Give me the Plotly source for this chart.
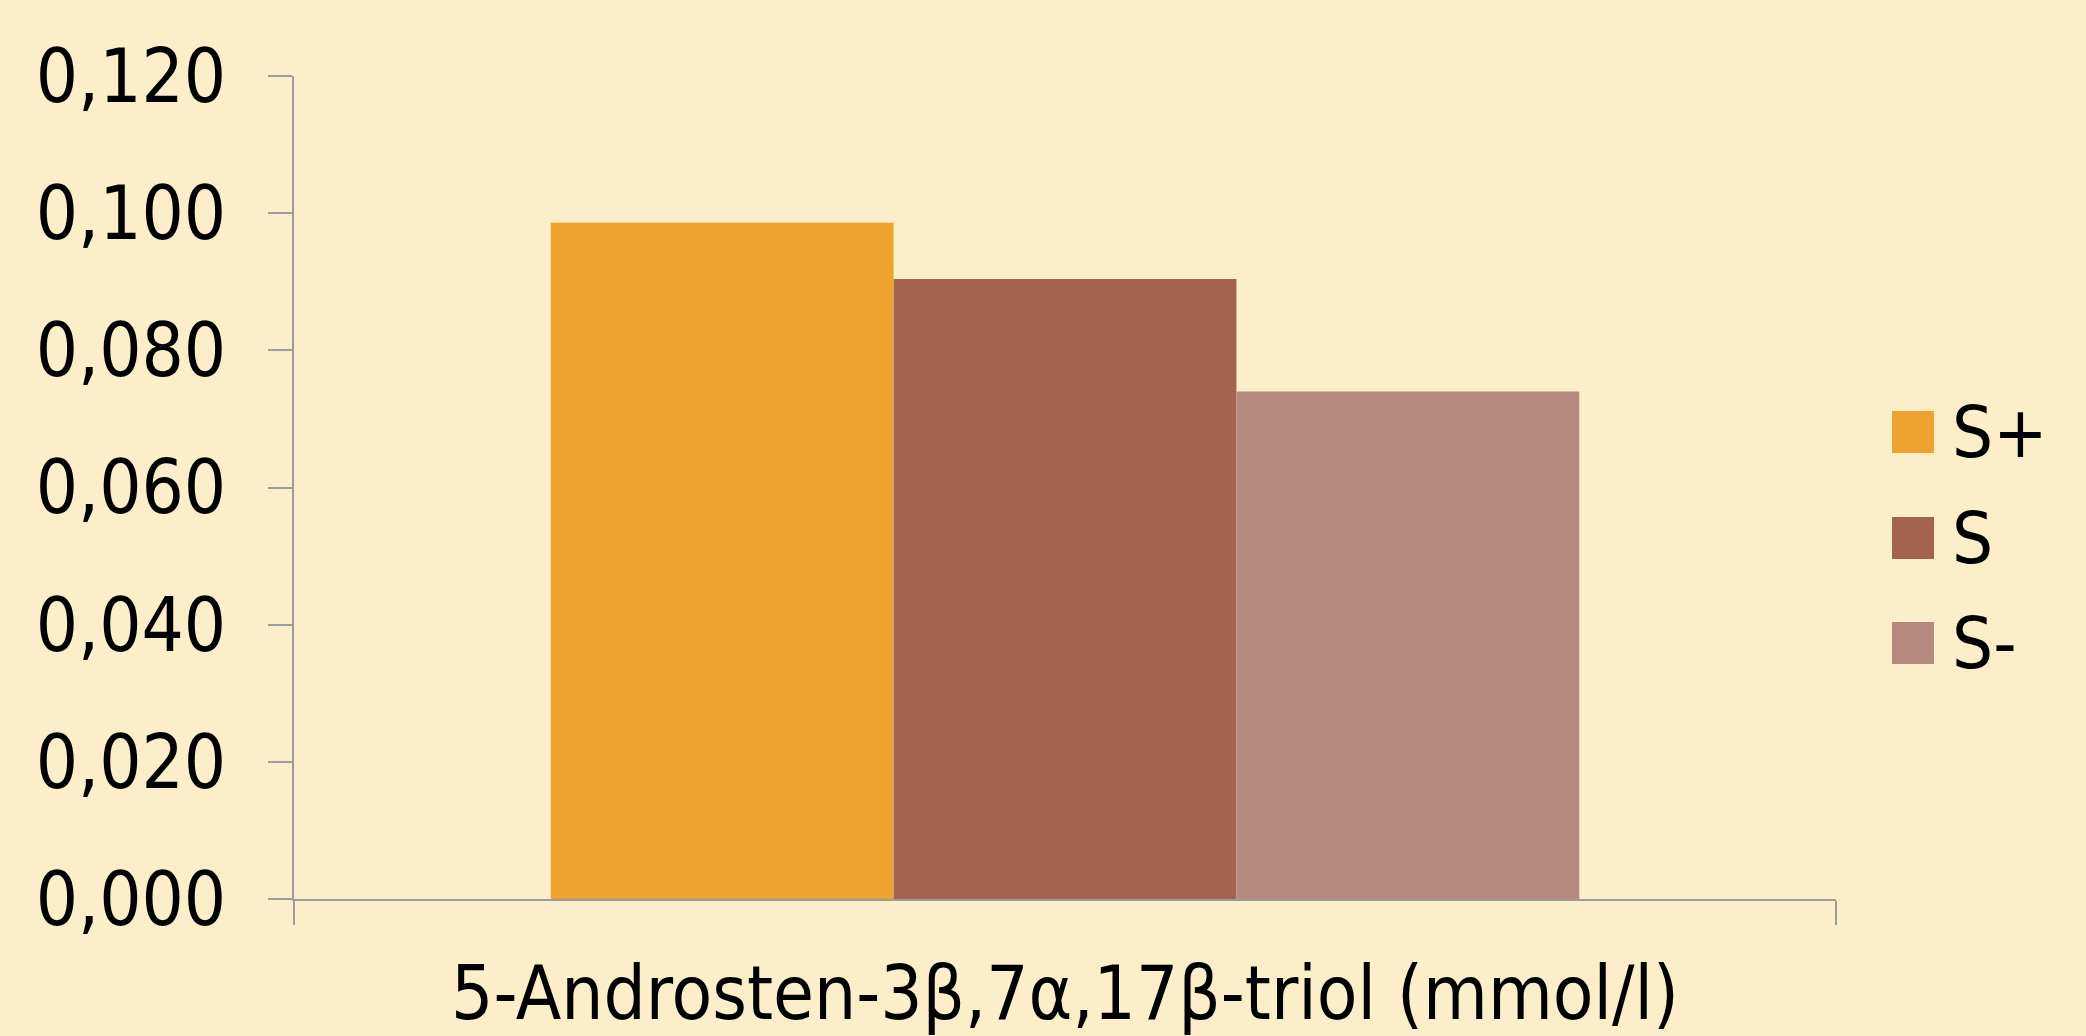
import plotly.graph_objects as go

# ---- data ----
categories = ["5-Androsten-3β,7α,17β-triol (mmol/l)"]
series_names = ["S+", "S", "S-"]
series_values = {
    "S+": [0.0986],
    "S": [0.0904],
    "S-": [0.0740],
}
y_ticks = [0.0, 0.02, 0.04, 0.06, 0.08, 0.10, 0.12]

# ---- styles ----
colors = {"S+": "#EFA32F", "S": "#A4634E", "S-": "#B5897D"}
BG = "#FCEECA"
AXIS = "#9C9C9C"
FONT = "DejaVu Sans Condensed, DejaVu Sans, sans-serif"
FS = 74

W, H = 2086, 1036
L, R, T, B = 294, 250, 76, 137
PW, PH = W - L - R, H - T - B

fig = go.Figure()
for name in series_names:
    fig.add_trace(go.Bar(
        x=categories, y=series_values[name], name=name,
        marker=dict(color=colors[name], line=dict(width=0)),
        showlegend=False,
    ))

def px_x(px):
    return (px - L) / PW

def px_y(py):
    return (H - B - py) / PH

# manual legend (large square swatches like the original)
legend_tops = [411, 517, 622]
sw = 42
for name, top in zip(series_names, legend_tops):
    fig.add_shape(type="rect", xref="paper", yref="paper",
                  x0=px_x(1892), x1=px_x(1892 + sw),
                  y0=px_y(top + sw), y1=px_y(top),
                  fillcolor=colors[name], line=dict(width=0))
    fig.add_annotation(xref="paper", yref="paper", x=px_x(1950), y=px_y(top + sw / 2),
                       text=name, showarrow=False, xanchor="left", yanchor="middle",
                       font=dict(family=FONT, size=72, color="black"))

fig.update_layout(
    width=W, height=H,
    margin=dict(l=L, r=R, t=T, b=B, pad=0),
    paper_bgcolor=BG, plot_bgcolor=BG,
    barmode="group", bargap=0.333, bargroupgap=0,
    separators=",.",
    font=dict(family=FONT, size=FS, color="black"),
    xaxis=dict(
        showline=True, linecolor=AXIS, linewidth=2,
        ticks="outside", ticklen=24, tickcolor=AXIS, tickwidth=2,
        tickson="boundaries", showgrid=False, zeroline=False,
        tickfont=dict(family=FONT, size=FS, color="black"),
        ticklabelstandoff=29, automargin=False,
    ),
    yaxis=dict(
        range=[0, 0.12], tickvals=y_ticks, tickformat=".3f",
        showline=True, linecolor=AXIS, linewidth=2,
        ticks="outside", ticklen=24, tickcolor=AXIS, tickwidth=2,
        showgrid=False, zeroline=False,
        tickfont=dict(family=FONT, size=FS, color="black"),
        ticklabelstandoff=27, automargin=False,
    ),
)

fig.write_html("out.html")
